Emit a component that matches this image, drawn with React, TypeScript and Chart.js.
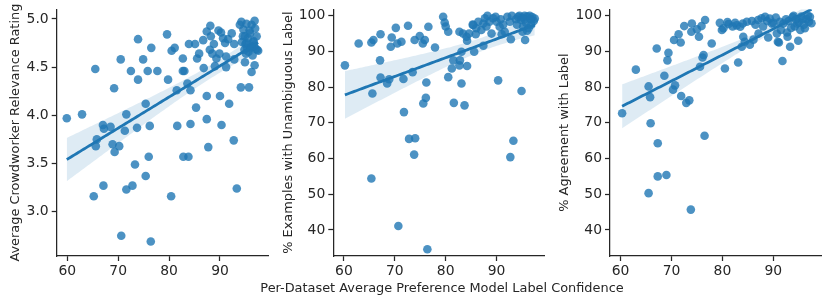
import React, { useEffect, useRef } from "react";
import { Chart, registerables } from "chart.js";

Chart.register(...registerables);

// ---------------- data ----------------
const X_TITLE = "Per-Dataset Average Preference Model Label Confidence";
const Y_TITLE_RATING = "Average Crowdworker Relevance Rating";
const Y_TITLE_UNAMB = "% Examples with Unambiguous Label";
const Y_TITLE_AGREE = "% Agreement with Label";

const X_TICKS = [60, 70, 80, 90];
const RATING_TICKS = [3.0, 3.5, 4.0, 4.5, 5.0];
const PCT_TICKS = [40, 50, 60, 70, 80, 90, 100];

const RATING_X = [
  59.9, 62.9, 65.5, 65.2, 67.1, 65.8, 65.6, 67.0, 67.2, 68.5,
  68.9, 69.3, 70.2, 69.2, 70.5, 71.6, 71.3, 71.6, 72.8, 73.3,
  70.6, 72.5, 73.9, 73.9, 73.7, 75.4, 74.9, 75.8, 76.5, 76.2,
  76.0, 75.4, 76.4, 77.7, 79.6, 79.8, 80.5, 81.1, 80.4, 81.5,
  81.6, 82.7, 82.7, 83.0, 82.8, 83.8, 83.6, 84.2, 84.2, 83.9,
  85.1, 85.3, 85.5, 85.9, 86.7, 86.8, 87.4, 87.4, 87.7, 87.4,
  88.1, 88.2, 88.0, 88.5, 88.8, 89.0, 89.3, 89.7, 90.2, 89.9,
  90.0, 90.3, 90.6, 91.0, 91.2, 91.2, 91.6, 91.8, 92.3, 92.8,
  92.8, 92.7, 93.3, 93.9, 94.2, 94.6, 94.9, 95.2, 94.1, 94.9,
  95.7, 96.2, 96.8, 95.6, 96.2, 96.8, 96.9, 97.3, 97.5, 96.6,
  95.9, 96.2, 95.2, 94.5, 95.0, 95.5, 96.0, 96.5, 97.0, 95.3,
  94.8, 96.4, 97.2, 95.8, 94.3, 96.7, 95.1,
];
const RATING_Y = [
  3.97, 4.01, 4.48, 3.16, 3.27, 3.75, 3.68, 3.90, 3.86, 3.88,
  3.70, 3.62, 3.68, 4.28, 4.58, 4.01, 3.84, 3.23, 3.27, 3.49,
  2.75, 4.46, 4.37, 4.79, 3.87, 4.12, 4.58, 4.46, 4.70, 3.89,
  3.57, 3.37, 2.69, 4.46, 4.84, 4.37, 4.67, 4.70, 3.16, 4.26,
  3.89, 4.59, 4.46, 4.46, 3.57, 3.57, 4.33, 4.26, 3.91, 4.74,
  4.74, 4.08, 4.59, 4.64, 4.78, 4.49, 4.20, 3.96, 3.67, 4.87,
  4.93, 4.82, 4.68, 4.64, 4.74, 4.51, 4.59, 4.88, 4.86, 4.64,
  4.20, 3.90, 4.80, 4.75, 4.61, 4.50, 4.79, 4.12, 4.85, 4.74,
  4.58, 3.74, 3.24, 4.94, 4.97, 4.89, 4.82, 4.75, 4.29, 4.55,
  4.29, 4.45, 4.52, 4.66, 4.71, 4.98, 4.90, 4.68, 4.67, 4.77,
  4.85, 4.94, 4.95, 4.82, 4.74, 4.80, 4.70, 4.76, 4.69, 4.70,
  4.68, 4.62, 4.82, 4.88, 4.76, 4.72, 4.64,
];

const UNAMB_X = [
  60.2, 62.9, 65.4, 65.8, 67.2, 67.1, 65.6, 65.4, 67.2, 68.5,
  68.9, 69.2, 69.4, 70.2, 70.5, 71.3, 71.7, 71.8, 72.6, 72.8,
  74.0, 73.8, 70.7, 73.5, 73.9, 74.9, 75.5, 75.9, 76.2, 76.1,
  75.6, 76.6, 76.4, 77.9, 79.5, 79.8, 80.0, 80.5, 80.5, 81.2,
  81.5, 81.6, 82.7, 82.7, 82.8, 83.1, 83.1, 83.7, 83.4, 84.1,
  84.2, 84.2, 84.6, 85.4, 85.6, 85.9, 86.4, 87.4, 87.4, 87.7,
  88.2, 88.6, 89.0, 89.3, 89.8, 90.0, 90.3, 90.6, 91.0, 91.6,
  92.1, 92.6, 92.8, 92.7, 93.3, 94.2, 94.9, 95.1, 95.6, 94.5,
  95.0, 95.5, 96.0, 96.5, 97.0, 97.3, 96.8, 95.8, 95.2, 94.8,
  96.3, 97.5, 93.8, 96.0, 94.0, 95.5, 96.7, 85.3, 88.0, 90.8,
  91.3, 93.0, 87.0, 86.0,
];
const UNAMB_Y = [
  86.1, 92.2, 92.5, 93.2, 94.8, 87.5, 78.2, 54.4, 82.7, 81.0,
  82.2, 91.3, 93.9, 96.6, 92.2, 92.7, 82.3, 73.0, 97.2, 65.5,
  65.7, 61.1, 41.1, 84.2, 93.2, 94.3, 92.2, 93.2, 81.3, 77.0,
  75.4, 96.9, 34.6, 91.1, 99.7, 98.1, 97.0, 95.5, 82.8, 85.2,
  87.5, 75.6, 95.5, 86.1, 87.5, 89.9, 81.0, 74.9, 95.0, 94.1,
  85.9, 93.0, 95.0, 97.4, 89.9, 94.8, 98.3, 91.6, 97.8, 99.3,
  100.0, 98.3, 95.0, 99.3, 99.7, 98.3, 81.9, 96.9, 94.8, 95.5,
  99.7, 98.3, 93.4, 60.4, 65.0, 99.7, 78.9, 95.5, 93.2, 100.0,
  99.5, 100.0, 99.8, 100.0, 99.6, 98.5, 97.5, 98.0, 97.0, 98.8,
  96.5, 99.2, 99.0, 95.8, 97.5, 99.0, 99.0, 97.5, 97.0, 99.0,
  97.5, 100.0, 96.0, 96.5,
];

const AGREE_X = [
  60.3, 63.0, 65.5, 65.8, 65.9, 67.3, 67.1, 65.5, 67.3, 69.0,
  68.6, 69.2, 69.4, 70.3, 70.7, 70.5, 71.4, 71.8, 71.9, 72.5,
  72.9, 73.5, 73.8, 74.0, 73.9, 75.0, 75.4, 75.6, 75.9, 76.1,
  76.3, 76.5, 76.6, 77.9, 79.5, 79.9, 80.5, 81.2, 82.0, 82.5,
  83.1, 83.5, 83.8, 84.1, 84.4, 85.4, 86.1, 87.1, 87.7, 88.4,
  89.0, 89.7, 90.7, 91.1, 91.8, 92.7, 92.8, 93.3, 94.9, 80.2,
  81.0, 82.8, 84.0, 84.8, 85.8, 86.5, 87.0, 88.0, 88.8, 89.3,
  90.0, 90.5, 91.3, 92.0, 92.5, 93.0, 93.8, 94.5, 95.0, 95.5,
  96.0, 96.5, 97.0, 97.5, 96.2, 95.3, 94.2, 93.5, 97.2, 96.8,
  94.0, 90.9, 91.5, 95.8, 94.7,
];
const AGREE_Y = [
  72.7, 84.9, 80.2, 77.2, 69.9, 64.3, 90.8, 50.3, 55.0, 55.4,
  83.2, 87.5, 89.6, 79.3, 80.5, 93.2, 94.8, 92.5, 77.5, 97.1,
  75.6, 76.3, 45.7, 97.8, 95.5, 96.2, 94.1, 85.7, 97.1, 88.3,
  89.0, 66.4, 98.8, 92.2, 98.0, 96.0, 85.2, 97.7, 97.0, 98.0,
  86.9, 96.9, 91.3, 94.1, 92.7, 91.9, 93.3, 95.0, 99.3, 99.7,
  93.9, 97.8, 95.0, 92.5, 87.3, 95.3, 94.1, 91.3, 93.0, 96.5,
  98.2, 97.3, 97.8, 98.3, 98.5, 97.5, 98.8, 97.0, 98.5, 99.2,
  98.0, 99.5, 98.3, 97.8, 99.0, 98.5, 99.6, 99.0, 98.2, 99.8,
  97.5, 99.0, 98.3, 97.9, 96.5, 96.0, 97.0, 96.6, 99.7, 100.0,
  100.0, 92.7, 96.0, 99.0, 97.8,
];

// axis ranges
const X_MIN = 57.92;
const X_MAX = 99.43;
const RATING_MIN = 2.54;
const RATING_MAX = 5.1;
const PCT_MIN = 32.7;
const PCT_MAX = 101.8;

// ---------------- style ----------------
const FONT = "'DejaVu Sans', sans-serif";
const FS = 13.9;
const TFS = 12.9;
const INK = "#262626";
const POINT = "rgba(31,119,180,0.8)";
const LINE = "rgb(31,119,180)";
const BAND = "rgba(31,119,180,0.15)";

type Pt = { x: number; y: number };

// OLS fit with a heteroscedasticity-robust (HC1) 95% confidence band
function regression(xs: number[], ys: number[]) {
  const n = xs.length;
  let mx = 0, my = 0;
  for (let i = 0; i < n; i++) { mx += xs[i]; my += ys[i]; }
  mx /= n; my /= n;
  let suu = 0, suy = 0;
  for (let i = 0; i < n; i++) {
    suu += (xs[i] - mx) ** 2;
    suy += (xs[i] - mx) * (ys[i] - my);
  }
  const b = suy / suu;
  let s0 = 0, s1 = 0, s2 = 0;
  for (let i = 0; i < n; i++) {
    const u = xs[i] - mx;
    const e2 = (ys[i] - my - b * u) ** 2;
    s0 += e2; s1 += e2 * u; s2 += e2 * u * u;
  }
  const k = n / (n - 2);
  const varA = (k * s0) / (n * n);
  const cov = (k * s1) / (n * suu);
  const varB = (k * s2) / (suu * suu);
  const lo = Math.min(...xs), hi = Math.max(...xs);
  const line: Pt[] = [], up: Pt[] = [], dn: Pt[] = [];
  const N = 100;
  for (let j = 0; j <= N; j++) {
    const x = lo + ((hi - lo) * j) / N;
    const u0 = x - mx;
    const yh = my + b * u0;
    const se = Math.sqrt(Math.max(0, varA + 2 * u0 * cov + u0 * u0 * varB));
    line.push({ x, y: yh });
    up.push({ x, y: yh + 1.96 * se });
    dn.push({ x, y: yh - 1.96 * se });
  }
  return { line, up, dn };
}

type PanelProps = {
  left: number;
  width: number;
  yAxisWidth: number;
  rightPad: number;
  xs: number[];
  ys: number[];
  yMin: number;
  yMax: number;
  yTicks: number[];
  decimals: number;
  yTitle: string;
  yTitlePad: number;
};

const H = 305;
const TOP = 9.3;
const X_AXIS_H = 49;

function Panel(p: PanelProps) {
  const ref = useRef<HTMLCanvasElement | null>(null);
  useEffect(() => {
    if (!ref.current) return;
    const pts = p.xs.map((x, i) => ({ x, y: p.ys[i] }));
    const reg = regression(p.xs, p.ys);
    const font = { family: FONT, size: FS };
    const tfont = { family: FONT, size: TFS };
    const axisCommon = {
      grid: {
        display: true,
        drawOnChartArea: false,
        drawTicks: true,
        tickLength: 5,
        tickWidth: 1.25,
        tickColor: INK,
        color: INK,
      },
      border: { display: true, color: INK, width: 1.25 },
    };
    const chart = new Chart(ref.current, {
      type: "scatter",
      data: {
        datasets: [
          {
            type: "scatter",
            data: pts,
            backgroundColor: POINT,
            borderWidth: 0,
            pointRadius: 4.3,
            pointHoverRadius: 4.3,
            order: 3,
          } as any,
          {
            type: "line",
            data: reg.up,
            borderColor: "transparent",
            borderWidth: 0,
            pointRadius: 0,
            fill: false,
            order: 2,
          } as any,
          {
            type: "line",
            data: reg.dn,
            borderColor: "transparent",
            borderWidth: 0,
            pointRadius: 0,
            backgroundColor: BAND,
            fill: "-1",
            order: 2,
          } as any,
          {
            type: "line",
            data: reg.line,
            borderColor: LINE,
            borderWidth: 2.8,
            pointRadius: 0,
            fill: false,
            order: 1,
          } as any,
        ],
      },
      options: {
        animation: false,
        responsive: false,
        events: [],
        layout: { padding: { left: 0, right: p.rightPad, top: TOP, bottom: 0 } },
        plugins: { legend: { display: false }, tooltip: { enabled: false } },
        scales: {
          x: {
            type: "linear",
            position: "bottom",
            min: X_MIN,
            max: X_MAX,
            bounds: "data",
            afterBuildTicks: (s: any) => {
              s.ticks = X_TICKS.map((v) => ({ value: v }));
            },
            afterFit: (s: any) => {
              s.height = X_AXIS_H;
              s.paddingLeft = 0; s.paddingRight = 0; s.paddingTop = 0; s.paddingBottom = 0;
            },
            ...axisCommon,
            ticks: {
              color: INK,
              font,
              padding: 2,
              maxRotation: 0,
              autoSkip: false,
              callback: (v: any) => String(v),
            },
          },
          y: {
            type: "linear",
            position: "left",
            min: p.yMin,
            max: p.yMax,
            bounds: "data",
            afterBuildTicks: (s: any) => {
              s.ticks = p.yTicks.map((v) => ({ value: v }));
            },
            afterFit: (s: any) => {
              s.width = p.yAxisWidth;
              s.paddingLeft = 0; s.paddingRight = 0; s.paddingTop = 0; s.paddingBottom = 0;
            },
            ...axisCommon,
            ticks: {
              color: INK,
              font,
              padding: 3,
              autoSkip: false,
              callback: (v: any) => Number(v).toFixed(p.decimals),
            },
            title: {
              display: true,
              text: p.yTitle,
              color: INK,
              font: tfont,
              padding: { top: p.yTitlePad, bottom: 0 },
            },
          },
        },
      } as any,
    });
    return () => chart.destroy();
  }, []);
  return (
    <canvas
      ref={ref}
      width={p.width}
      height={H}
      style={{ position: "absolute", left: p.left, top: 0, width: p.width, height: H }}
    />
  );
}

export default function App() {
  return (
    <div style={{ position: "absolute", left: 0, top: 0, width: 830, height: H, background: "#fff", overflow: "hidden" }}>
      <Panel
        left={0}
        width={276}
        yAxisWidth={56.7}
        rightPad={276 - 268}
        xs={RATING_X}
        ys={RATING_Y}
        yMin={RATING_MIN}
        yMax={RATING_MAX}
        yTicks={RATING_TICKS}
        decimals={1}
        yTitle={Y_TITLE_RATING}
        yTitlePad={8.3}
      />
      <Panel
        left={276}
        width={277}
        yAxisWidth={57.3}
        rightPad={553 - 544.6}
        xs={UNAMB_X}
        ys={UNAMB_Y}
        yMin={PCT_MIN}
        yMax={PCT_MAX}
        yTicks={PCT_TICKS}
        decimals={0}
        yTitle={Y_TITLE_UNAMB}
        yTitlePad={4.6}
      />
      <Panel
        left={553}
        width={277}
        yAxisWidth={57}
        rightPad={830 - 821.3}
        xs={AGREE_X}
        ys={AGREE_Y}
        yMin={PCT_MIN}
        yMax={PCT_MAX}
        yTicks={PCT_TICKS}
        decimals={0}
        yTitle={Y_TITLE_AGREE}
        yTitlePad={3.7}
      />
      <div
        style={{
          position: "absolute",
          left: 442 - 300,
          width: 600,
          top: 279.5,
          height: 16,
          lineHeight: "16px",
          textAlign: "center",
          fontFamily: FONT,
          fontSize: TFS,
          color: INK,
          whiteSpace: "nowrap",
        }}
      >
        {X_TITLE}
      </div>
    </div>
  );
}
